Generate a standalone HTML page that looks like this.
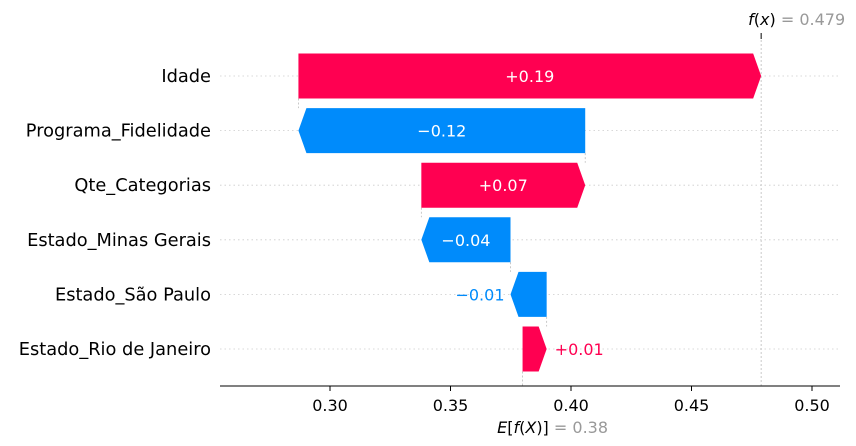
<!DOCTYPE html>
<html><head><meta charset="utf-8">
<style>
html,body{margin:0;padding:0;background:#fff;}
svg{display:block;font-family:"DejaVu Sans","Liberation Sans",sans-serif;}
</style></head>
<body>
<svg id="chart" width="856" height="446" viewBox="0 0 856 446">
  <g id="grid"></g>
  <g id="connectors"></g>
  <g id="bars"></g>
  <g id="labels"></g>
  <g id="axis"></g>
</svg>
<script>
const features = ["Idade","Programa_Fidelidade","Qte_Categorias","Estado_Minas Gerais","Estado_São Paulo","Estado_Rio de Janeiro"];
const contributions = [0.192,-0.119,0.068,-0.037,-0.015,0.010];
const baseValue = 0.3799;
const xTicks = [0.30,0.35,0.40,0.45,0.50];
const tickLabels = ["0.30","0.35","0.40","0.45","0.50"];

const NS="http://www.w3.org/2000/svg";
const X0=330, PX=2410;
const x = v => X0 + (v-0.30)*PX;
const rowY = i => 76 + i*54.6;
const H=45, ARROW=8;
const RED="#ff0051", BLUE="#008bfb";
function mk(tag, attrs, parent){const e=document.createElementNS(NS,tag);for(const k in attrs)e.setAttribute(k,attrs[k]);parent.appendChild(e);return e;}
const G=id=>document.getElementById(id);

const n=features.length;
const starts=new Array(n), ends=new Array(n);
let cur=baseValue;
for(let i=n-1;i>=0;i--){starts[i]=cur;cur+=contributions[i];ends[i]=cur;}
const fx=cur;

for(let i=0;i<n;i++){
  const l=mk("line",{x1:220,x2:840,y1:rowY(i),y2:rowY(i),stroke:"#ccc","stroke-width":0.8,"stroke-dasharray":"1.5,3"},G("grid"));
  
  
}
for(let i=0;i<n-1;i++){
  const cx=x(starts[i]);
  const l=mk("line",{x1:cx,x2:cx,y1:rowY(i)+H/2,y2:rowY(i+1)-H/2,stroke:"#bbb","stroke-width":0.8,"stroke-dasharray":"2,2"},G("connectors"));
  
  
}
const fl=mk("line",{x1:x(fx),x2:x(fx),y1:40,y2:386,stroke:"#bbb","stroke-width":0.8,"stroke-dasharray":"2,2"},G("connectors"));


const ft=mk("line",{x1:x(fx),x2:x(fx),y1:33,y2:39,stroke:"#000","stroke-width":1},G("connectors"));


const el=mk("line",{x1:x(baseValue),x2:x(baseValue),y1:rowY(n-1)+H/2,y2:386,stroke:"#bbb","stroke-width":0.8,"stroke-dasharray":"2,2"},G("connectors"));



for(let i=0;i<n;i++){
  const v=contributions[i], a=x(starts[i]), b=x(ends[i]), cy=rowY(i), t=cy-H/2, bt=cy+H/2;
  let pts;
  const w=Math.abs(b-a), ar=Math.min(ARROW,w);
  if(v>0){pts=[[a,t],[b-ar,t],[b,cy],[b-ar,bt],[a,bt]];}
  else{pts=[[a,t],[b+ar,t],[b,cy],[b+ar,bt],[a,bt]];}
  const p=mk("polygon",{points:pts.map(q=>q.join(",")).join(" "),fill:v>0?RED:BLUE},G("bars"));
  
  
  const txt=(v>0?"+":"\u2212")+Math.abs(v).toFixed(2);
  let tx,anchor,col;
  if(w>60){tx=(a+b)/2;anchor="middle";col="#fff";}
  else if(v>0){tx=b+8;anchor="start";col=RED;}
  else{tx=b-6;anchor="end";col=BLUE;}
  const te=mk("text",{x:tx,y:cy+6,"text-anchor":anchor,fill:col,"font-size":16},G("bars"));
  te.textContent=txt;
  
  
  const lb=mk("text",{x:211,y:cy+6,"text-anchor":"end",fill:"#000","font-size":17.8},G("labels"));
  lb.textContent=features[i];
  
  
}

const ax=mk("line",{x1:220,x2:840,y1:386,y2:386,stroke:"#000","stroke-width":1},G("axis"));


xTicks.forEach((v,i)=>{
  const tk=mk("line",{x1:x(v),x2:x(v),y1:386,y2:391,stroke:"#000","stroke-width":1},G("axis"));
  
  
  const tl=mk("text",{x:x(v),y:411,"text-anchor":"middle","font-size":16,fill:"#000"},G("axis"));
  tl.textContent=tickLabels[i];
  
  
});
const eb=mk("text",{x:x(baseValue)+30,y:433,"text-anchor":"middle","font-size":16},G("axis"));
eb.innerHTML='<tspan font-style="italic" fill="#000">E</tspan><tspan fill="#000">[</tspan><tspan font-style="italic" fill="#000">f</tspan><tspan fill="#000">(</tspan><tspan font-style="italic" fill="#000">X</tspan><tspan fill="#000">)] </tspan><tspan fill="#999">= '+baseValue.toFixed(2)+'</tspan>';


const fe=mk("text",{x:x(fx)-13,y:25,"text-anchor":"start","font-size":16},G("axis"));
fe.innerHTML='<tspan font-style="italic" fill="#000">f</tspan><tspan fill="#000">(</tspan><tspan font-style="italic" fill="#000">x</tspan><tspan fill="#000">) </tspan><tspan fill="#999">= '+fx.toFixed(3)+'</tspan>';


</script>
</body></html>
